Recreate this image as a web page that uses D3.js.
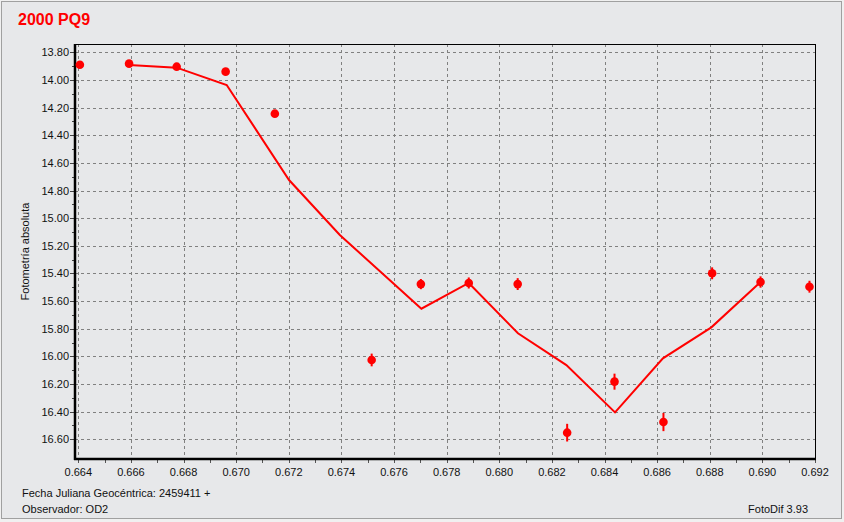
<!DOCTYPE html>
<html>
<head>
<meta charset="utf-8">
<script src="https://cdn.jsdelivr.net/npm/d3@7"></script>
<style>
html,body{margin:0;padding:0;background:#f0f0f0;}
svg{display:block;}
text{font-family:"Liberation Sans",Arial,sans-serif;}
</style>
</head>
<body>
<svg id="chart" width="844" height="522"></svg>
<script>
// ---- data ----
const title = "2000 PQ9";
const obsTime = [0.66406, 0.66593, 0.66774, 0.66960, 0.67147, 0.67515, 0.67702, 0.67884, 0.68070, 0.68258, 0.68438, 0.68624, 0.68809, 0.68993, 0.69179];
const obsMag  = [13.890, 13.882, 13.904, 13.940, 14.244, 16.026, 15.477, 15.469, 15.477, 16.552, 16.183, 16.475, 15.399, 15.462, 15.496];
const obsErr  = [0.02, 0.02, 0.02, 0.02, 0.025, 0.046, 0.037, 0.040, 0.043, 0.064, 0.058, 0.066, 0.043, 0.041, 0.043];
const lineTime = [0.66593, 0.66774, 0.66964, 0.67201, 0.67394, 0.67704, 0.67884, 0.68071, 0.68255, 0.68440, 0.68622, 0.68806, 0.68993];
const lineMag  = [13.892, 13.911, 14.037, 14.724, 15.122, 15.655, 15.469, 15.833, 16.063, 16.405, 16.014, 15.790, 15.462];
const xTicks = d3.range(0, 15).map(i => +(0.664 + i * 0.002).toFixed(3));
const xMinor = d3.range(0, 29).map(i => +(0.664 + i * 0.001).toFixed(3));
const yTicks = d3.range(0, 15).map(i => +(13.8 + i * 0.2).toFixed(2));
const yMinor = d3.range(0, 30).map(i => +(13.7 + i * 0.1).toFixed(2));
const yLabel = "Fotometría absoluta";
const footLeft1 = "Fecha Juliana Geocéntrica: 2459411 +";
const footLeft2 = "Observador: OD2";
const footRight = "FotoDif 3.93";

// ---- layout ----
const W = 844, H = 522;
const frame = {l: 75, r: 815, t: 44, b: 459};
const x = d3.scaleLinear().domain([0.664, 0.692]).range([78.3, 815]);
const y = d3.scaleLinear().domain([13.8, 16.6]).range([52.3, 439.3]);
const red = "#ff0000";

const svg = d3.select("#chart");
svg.append("rect").attr("x", 1.5).attr("y", 1.5).attr("width", 840).attr("height", 517)
  .attr("fill", "#e7e8ea").attr("stroke", "#a0a0a0").attr("stroke-width", 1);

svg.append("text").attr("x", 18).attr("y", 25).attr("fill", red)
  .attr("font-size", 16).attr("font-weight", "bold").text(title);

// grid
const grid = svg.append("g");
grid.selectAll("line.gx").data(xTicks.slice(0, -1)).join("line")
  .attr("x1", d => Math.round(x(d)) + 0.5).attr("x2", d => Math.round(x(d)) + 0.5)
  .attr("y1", frame.t).attr("y2", frame.b)
  .attr("stroke", "#808080").attr("stroke-dasharray", "3,3");
grid.selectAll("line.gy").data(yTicks).join("line")
  .attr("y1", d => Math.round(y(d)) + 0.5).attr("y2", d => Math.round(y(d)) + 0.5)
  .attr("x1", frame.l).attr("x2", frame.r)
  .attr("stroke", "#808080").attr("stroke-dasharray", "3,3");

// minor/major ticks
const ax = svg.append("g");
ax.selectAll("line.tx").data(xMinor).join("line")
  .attr("x1", d => Math.round(x(d)) + 0.5).attr("x2", d => Math.round(x(d)) + 0.5)
  .attr("y1", frame.b).attr("y2", frame.b + 4)
  .attr("stroke", "#555");
ax.selectAll("line.ty").data(yMinor.filter(v => y(v) >= frame.t && y(v) <= frame.b)).join("line")
  .attr("y1", d => Math.round(y(d)) + 0.5).attr("y2", d => Math.round(y(d)) + 0.5)
  .attr("x1", d => (Math.round(d * 10) % 2 === 0) ? frame.l - 5 : frame.l - 3).attr("x2", frame.l)
  .attr("stroke", "#444");

// tick labels
ax.selectAll("text.xl").data(xTicks).join("text")
  .attr("x", d => x(d)).attr("y", 476).attr("text-anchor", "middle")
  .attr("font-size", 11).attr("fill", "#111").text(d => d3.format(".3f")(d));
ax.selectAll("text.yl").data(yTicks).join("text")
  .attr("x", 69).attr("y", d => y(d) + 4).attr("text-anchor", "end")
  .attr("font-size", 11).attr("fill", "#111").text(d => d3.format(".2f")(d));

svg.append("text").attr("transform", "translate(29,251.5) rotate(-90)")
  .attr("text-anchor", "middle").attr("font-size", 11).attr("fill", "#111").text(yLabel);

// frame
svg.append("line").attr("x1", frame.l).attr("x2", frame.r + 0.5).attr("y1", frame.t + 0.5).attr("y2", frame.t + 0.5).attr("stroke", "#000");
svg.append("line").attr("x1", frame.r + 0.5).attr("x2", frame.r + 0.5).attr("y1", frame.t).attr("y2", frame.b + 1).attr("stroke", "#000");
svg.append("line").attr("x1", frame.l).attr("x2", frame.l).attr("y1", frame.t).attr("y2", frame.b + 1).attr("stroke", "#000").attr("stroke-width", 2.5);
svg.append("line").attr("x1", frame.l - 1).attr("x2", frame.r + 1).attr("y1", frame.b).attr("y2", frame.b).attr("stroke", "#000").attr("stroke-width", 2.5);

// fitted line
const lineData = lineTime.map((t, i) => [t, lineMag[i]]);
svg.append("path").datum(lineData)
  .attr("d", d3.line().x(d => x(d[0])).y(d => y(d[1])))
  .attr("fill", "none").attr("stroke", red).attr("stroke-width", 2);

// observations
const obs = obsTime.map((t, i) => ({t, m: obsMag[i], e: obsErr[i]}));
const pts = svg.append("g");
pts.selectAll("line").data(obs).join("line")
  .attr("x1", d => x(d.t)).attr("x2", d => x(d.t))
  .attr("y1", d => y(d.m - d.e)).attr("y2", d => y(d.m + d.e))
  .attr("stroke", red).attr("stroke-width", 2);
pts.selectAll("circle").data(obs).join("circle")
  .attr("cx", d => x(d.t)).attr("cy", d => y(d.m)).attr("r", 4.3)
  .attr("fill", red);

// footer
svg.append("text").attr("x", 22).attr("y", 497).attr("font-size", 11).attr("fill", "#111").text(footLeft1);
svg.append("text").attr("x", 22).attr("y", 513).attr("font-size", 11).attr("fill", "#111").text(footLeft2);
svg.append("text").attr("x", 808).attr("y", 513).attr("text-anchor", "end").attr("font-size", 11).attr("fill", "#111").text(footRight);
</script>
</body>
</html>
